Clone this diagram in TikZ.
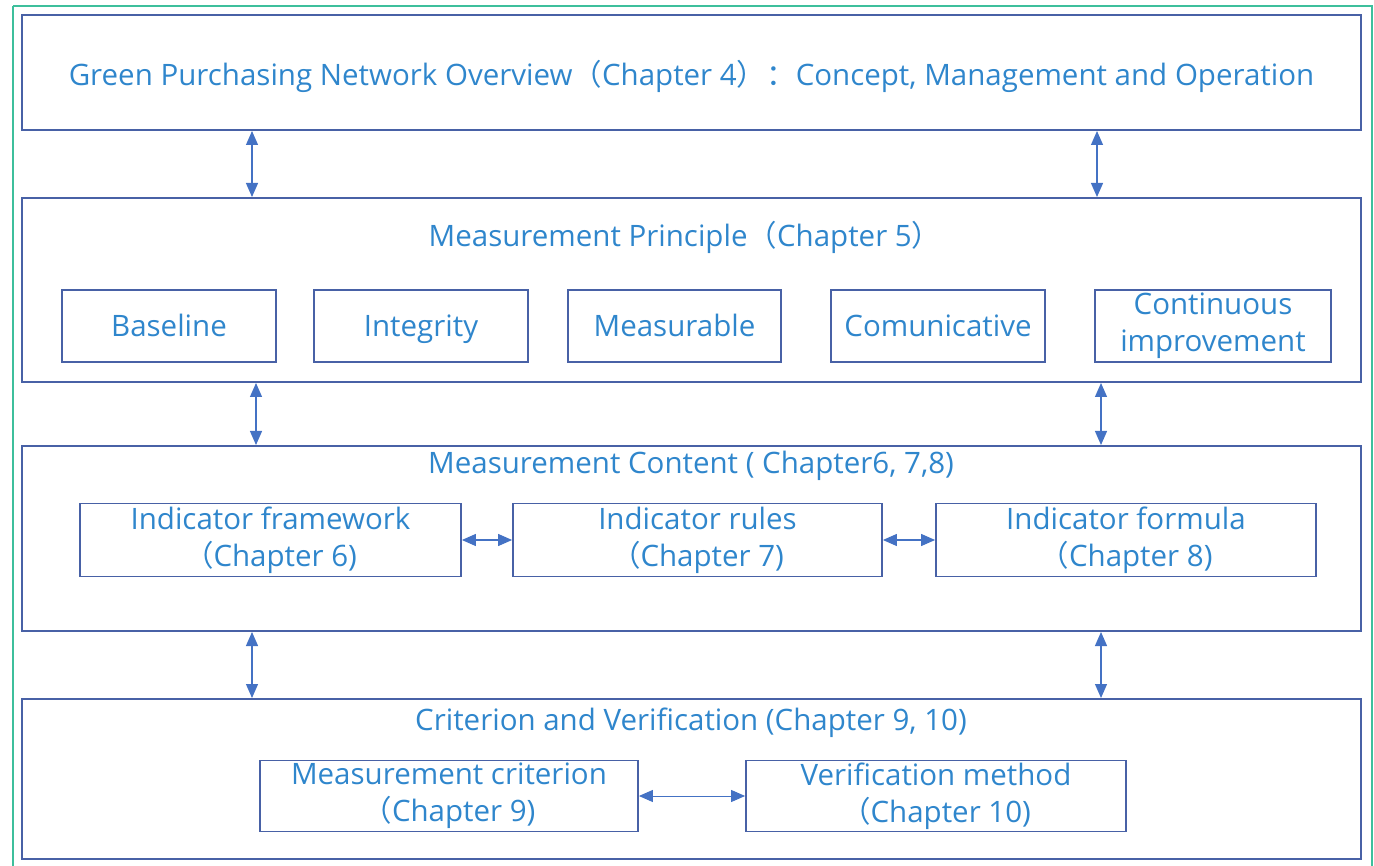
\documentclass[tikz,border=0pt]{standalone}
\usepackage{fontspec}
\setmainfont{Open Sans}
\newfontfamily\cjk{Noto Sans CJK SC}
\usetikzlibrary{arrows.meta}
\definecolor{txtblue}{HTML}{2F86CC}
\definecolor{boxblue}{HTML}{4861A6}
\definecolor{arrblue}{HTML}{4472C4}
\definecolor{frame}{HTML}{3DBF9C}
\newcommand{\flp}{{\cjk （}}
\newcommand{\frp}{{\cjk ）}}
\newcommand{\fcol}{{\cjk ：}}
\tikzset{
  outerbox/.style={draw=boxblue, line width=2pt, minimum width=1339pt},
  innerbox/.style={draw=boxblue, line width=1.8pt, text=txtblue, align=center,
    inner sep=0pt, font=\fontsize{29.5}{37}\selectfont},
  oneline/.style={text height=24pt, text depth=3pt},
  heading/.style={text=txtblue, inner sep=0pt, font=\fontsize{29.5}{36}\selectfont},
  biarrow/.style={draw=arrblue, line width=1.2pt,
    {Triangle[length=14pt,width=12pt]}-{Triangle[length=14pt,width=12pt]}},
}
\begin{document}
\begin{tikzpicture}[x=1pt,y=-1pt]
  \useasboundingbox (0,0) rectangle (1374,866);
  \draw[frame, line width=1.6pt] (13,6) -- (13,872) (13,6) -- (1372,6) -- (1372,872);

  % layers
  \node[outerbox, minimum height=115pt] (overview) at (691.5,72.5) {};
  \node[outerbox, minimum height=184pt] (principle) at (691.5,290) {};
  \node[outerbox, minimum height=185pt] (content) at (691.5,538.5) {};
  \node[outerbox, minimum height=160pt] (verify) at (691.5,779) {};

  \node[heading] (overviewtitle) at (691.5,76)
    {Green Purchasing Network Overview\flp Chapter 4\frp\fcol Concept, Management and Operation};
  \node[heading] (principletitle) at (685,237) {Measurement Principle\flp Chapter 5\frp};
  \node[heading] (contenttitle) at (691,466) {Measurement Content ( Chapter6, 7,8)};
  \node[heading] (verifytitle) at (691,723) {Criterion and Verification (Chapter 9, 10)};

  % principles
  \node[innerbox, oneline, minimum width=214pt, minimum height=72pt] (baseline) at (169,326) {Baseline};
  \node[innerbox, oneline, minimum width=214pt, minimum height=72pt] (integrity) at (421,326) {Integrity};
  \node[innerbox, oneline, minimum width=213pt, minimum height=72pt] (measurable) at (674.5,326) {Measurable};
  \node[innerbox, oneline, minimum width=214pt, minimum height=72pt] (comunicative) at (938,326) {Comunicative};
  \node[innerbox, minimum width=236pt, minimum height=72pt] (improvement) at (1213,326) {Continuous\\improvement};

  % content
  \node[innerbox, minimum width=381pt, minimum height=73pt] (framework) at (270.5,540)
    {Indicator framework\\\flp Chapter 6)};
  \node[innerbox, minimum width=369pt, minimum height=73pt] (rules) at (697.5,540)
    {Indicator rules\\\flp Chapter 7)};
  \node[innerbox, minimum width=380pt, minimum height=73pt] (formula) at (1126,540)
    {Indicator formula\\\flp Chapter 8)};

  % criterion and verification
  \node[innerbox, minimum width=378pt, minimum height=71pt] (criterion) at (449,796)
    {Measurement criterion\\\flp Chapter 9)};
  \node[innerbox, minimum width=380pt, minimum height=71pt] (method) at (936,796)
    {Verification method\\\flp Chapter 10)};

  \coordinate (la) at (252,0);
  \coordinate (lb) at (256,0);
  \coordinate (ra) at (1097,0);
  \coordinate (rb) at (1101,0);

  \draw[biarrow] (overview.south -| la) -- (principle.north -| la);
  \draw[biarrow] (overview.south -| ra) -- (principle.north -| ra);
  \draw[biarrow] (principle.south -| lb) -- (content.north -| lb);
  \draw[biarrow] (principle.south -| rb) -- (content.north -| rb);
  \draw[biarrow] (content.south -| la) -- (verify.north -| la);
  \draw[biarrow] (content.south -| rb) -- (verify.north -| rb);

  \draw[biarrow] (framework) -- (rules);
  \draw[biarrow] (rules) -- (formula);
  \draw[biarrow, line width=1pt] (criterion) -- (method);
\end{tikzpicture}
\end{document}
